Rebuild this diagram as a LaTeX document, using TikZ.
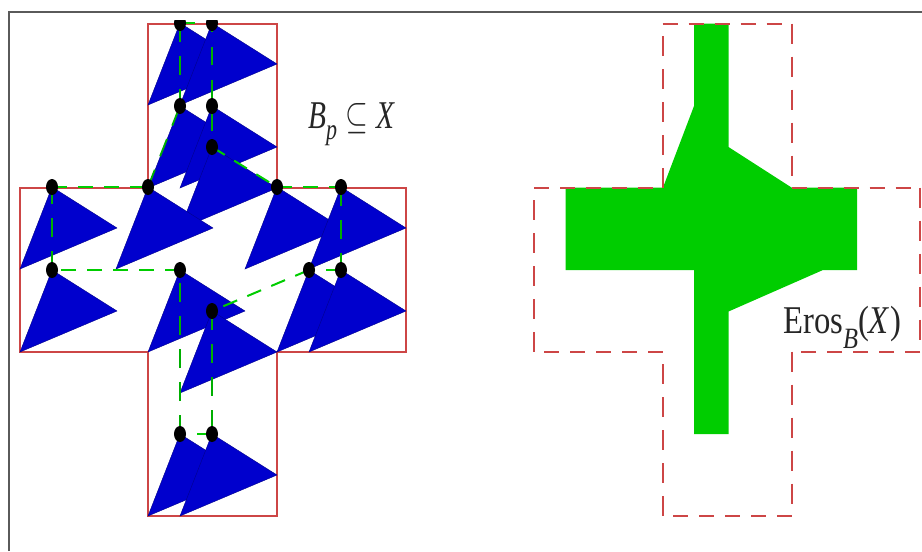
\documentclass[tikz,border=0pt]{standalone}
\usepackage{graphicx}
\usepackage{amstext}
\usepackage{fontspec}
\setmainfont{Liberation Serif}
\usetikzlibrary{shapes.geometric}
\definecolor{crossred}{RGB}{205,70,70}
\definecolor{triblue}{RGB}{0,0,205}
\definecolor{triedge}{RGB}{0,0,140}
\definecolor{erosgreen}{RGB}{0,205,0}
\definecolor{framegray}{RGB}{90,90,90}
\tikzset{
  crossline/.style={draw=crossred,line width=1.5pt},
  redh/.style={crossred,line width=1.5pt,dash pattern=on 11.25pt off 8.25pt},
  redv/.style={crossred,line width=1.5pt,dash pattern=on 15pt off 9.75pt},
  greenh/.style={erosgreen,line width=1.5pt,dash pattern=on 11.25pt off 8.25pt},
  greenv/.style={erosgreen!85!black,line width=1.4pt,dash pattern=on 14pt off 10.75pt},
  tri/.style={fill=triblue,draw=triedge,line width=.3pt,line join=miter},
  dotmark/.style={ellipse,fill=black,inner sep=0pt,minimum width=9pt,minimum height=12pt},
  lab/.style={anchor=base west,inner sep=0pt,text=black!85}
}
\newcommand{\triat}[1]{\path[tri] (#1) -- ++(65,41) -- ++(-97,41) -- cycle;}
\newcommand{\lowsub}[2]{\raisebox{#1}{\fontsize{7.5}{8}\selectfont\textit{#2}}}
\begin{document}
\begin{tikzpicture}[x=.75pt,y=-.75pt]
\useasboundingbox (0,0) rectangle (922,551);
% frame
\coordinate (fa) at (9,551); \coordinate (fb) at (9,12); \coordinate (fc) at (922,12);
\draw[framegray,line width=1.3pt] (fa) -- (fb) -- (fc);
% structuring-element origins
\foreach \n/\x/\y in {a/180/23,b/212/23,c/180/106,d/212/106,e/212/147,f/52/187,g/148/187,h/277/187,i/341/187,j/52/270,k/180/270,l/309/270,m/341/270,n/212/311,o/180/434,q/212/434}
  \coordinate (p\n) at (\x,\y);
% left cross
\draw[crossline,line join=miter] (148,23.5) -- (277,23.5) -- (277,187.5) -- (406,187.5) -- (406,351.5) -- (277,351.5) -- (277,515.5) -- (148,515.5) -- (148,351.5) -- (20,351.5) -- (20,187.5) -- (148,187.5) -- cycle;
% triangles
\triat{pa}\triat{pb}\triat{pc}\triat{pd}\triat{pe}\triat{pf}\triat{pg}\triat{ph}\triat{pi}\triat{pj}\triat{pk}\triat{pl}\triat{pm}\triat{pn}\triat{po}\triat{pq}
% green dashed outline
\draw[greenh] (pa) -- (pb);
\draw[greenv,dash phase=7pt] (pb) -- (pe);
\draw[greenh] (pe) -- (ph);
\draw[greenh] (ph) -- (pi);
\draw[greenv] (pi) -- (pm);
\draw[greenh] (pm) -- (pl);
\draw[greenh] (pl) -- (pn);
\draw[greenv] (pn) -- (pq);
\draw[greenh] (pq) -- (po);
\draw[greenv] (po) -- (pk);
\draw[greenh] (pk) -- (pj);
\draw[greenv] (pj) -- (pf);
\draw[greenh] (pf) -- (pg);
\draw[greenv] (pg) -- (pc);
\draw[greenv] (pa) -- (pc);
% dots (the top row is cut off above)
\begin{scope}
\clip (0,20) rectangle (922,551);
\foreach \n in {a,b,c,d,e,f,g,h,i,j,k,l,m,n,o,q}
  \node[dotmark] (dot\n) at (p\n) {};
\end{scope}
% right: eroded set
\fill[erosgreen] (694,23.5) -- (728.5,23.5) -- (728.5,147) -- (791.5,187.5) -- (857,187.5) -- (857,270) -- (823,270) -- (728.5,311.5) -- (728.5,434) -- (694,434) -- (694,270) -- (565.5,270) -- (565.5,187.5) -- (663,187.5) -- (694,106) -- cycle;
% right: dashed cross
\foreach \n/\x/\y in {1/662.5/23.5,2/791.5/23.5,3/791.5/187.5,4/920/187.5,5/920/351.5,6/791.5/351.5,7/791.5/515.5,8/662.5/515.5,9/662.5/351.5,10/534/351.5,11/534/187.5,12/662.5/187.5}
  \coordinate (r\n) at (\x,\y);
\draw[redh] (r1) -- (r2);
\draw[redv] (r2) -- (r3);
\draw[redh] (r3) -- (r4);
\draw[redv] (r4) -- (r5);
\draw[redh] (r5) -- (r6);
\draw[redv] (r6) -- (r7);
\draw[redh] (r7) -- (r8);
\draw[redv] (r8) -- (r9);
\draw[redh] (r9) -- (r10);
\draw[redv] (r10) -- (r11);
\draw[redh] (r11) -- (r12);
\draw[redv] (r12) -- (r1);
% labels
\node[lab] (lbp) at (308,128) {\scalebox{2.2}[2.95]{$\textit{B}\lowsub{-3pt}{p}\subseteq\textit{X}$}};
\node[lab] (lero) at (783,333) {\scalebox{2.45}[2.95]{Eros\lowsub{-4pt}{B}(\textit{X})}};
\end{tikzpicture}
\end{document}
